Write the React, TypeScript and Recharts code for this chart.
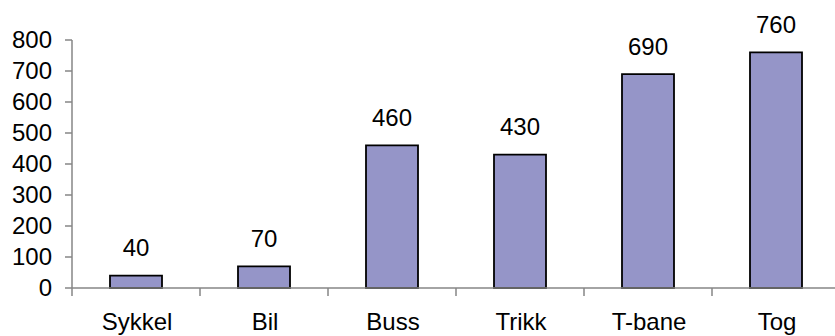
import React from "react";
import { BarChart, Bar, XAxis, YAxis, LabelList } from "recharts";

const categories = ["Sykkel", "Bil", "Buss", "Trikk", "T-bane", "Tog"];
const values = [40, 70, 460, 430, 690, 760];
const yTicks = [0, 100, 200, 300, 400, 500, 600, 700, 800];

const data = categories.map((name, i) => ({ name, value: values[i] }));

const FONT = "'Liberation Sans', Arial, sans-serif";
const FS = 24;
const AXIS = "#868686";

const YTick = (props: any) => {
  const { x, y, payload } = props;
  return (
    <text x={x} y={y + 7.6} textAnchor="end" fontFamily={FONT} fontSize={FS} fill="#000">
      {payload.value}
    </text>
  );
};

const XTick = (props: any) => {
  const { x, y, payload, index, visibleTicksCount, width } = props;
  const half =
    payload && typeof payload.offset === "number" && payload.offset > 0
      ? payload.offset
      : width / visibleTicksCount / 2;
  const isLast = index === visibleTicksCount - 1;
  return (
    <g>
      <line x1={x - half} x2={x - half} y1={y} y2={y + 8} stroke={AXIS} strokeWidth={1.5} />
      {isLast && (
        <line x1={x + half} x2={x + half} y1={y} y2={y + 8} stroke={AXIS} strokeWidth={1.5} />
      )}
      <text x={x + 1} y={y + 42} textAnchor="middle" fontFamily={FONT} fontSize={FS} fill="#000">
        {payload.value}
      </text>
    </g>
  );
};

const BarLabel = (props: any) => {
  const { x, y, width, value } = props;
  return (
    <text x={x + width / 2} y={y - 19.5} textAnchor="middle" fontFamily={FONT} fontSize={FS} fill="#000">
      {value}
    </text>
  );
};

export default function App() {
  return (
    <div
      style={{
        position: "fixed",
        left: 0,
        top: 0,
        width: 835,
        height: 336,
        overflow: "hidden",
        background: "#fff",
      }}
    >
      <BarChart
        width={850}
        height={336}
        data={data}
        margin={{ top: 40, right: 10, left: 0, bottom: 0 }}
        barCategoryGap={38}
      >
        <XAxis
          dataKey="name"
          height={48}
          axisLine={{ stroke: AXIS, strokeWidth: 1.5 }}
          tickLine={false}
          tickSize={0}
          tickMargin={0}
          interval={0}
          tick={<XTick />}
        />
        <YAxis
          width={72}
          domain={[0, 800]}
          ticks={yTicks}
          interval={0}
          axisLine={{ stroke: AXIS, strokeWidth: 1.5 }}
          tickLine={{ stroke: AXIS, strokeWidth: 1.5 }}
          tickSize={7}
          tickMargin={13}
          tick={<YTick />}
        />
        <Bar
          dataKey="value"
          fill="#9595C8"
          stroke="#000"
          strokeWidth={1.8}
          isAnimationActive={false}
        >
          <LabelList dataKey="value" content={<BarLabel />} />
        </Bar>
      </BarChart>
    </div>
  );
}
